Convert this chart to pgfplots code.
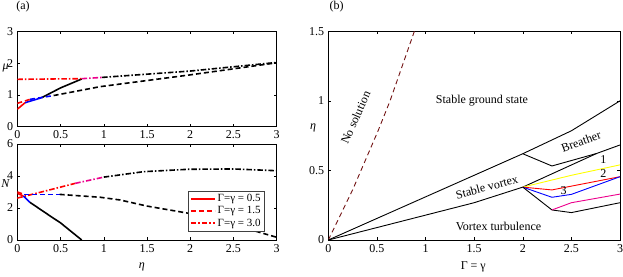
\documentclass[border=0pt]{standalone}
\usepackage{pgfplots}
\pgfplotsset{compat=1.18}
\usepackage{fontspec}
\setmainfont{Liberation Serif}
\definecolor{brownd}{rgb}{0.45,0.08,0.08}
\definecolor{myyellow}{rgb}{1,1,0}
\tikzset{lw/.style={line width=1.6pt}, lt/.style={line width=0.9pt}}
\begin{document}
\fontsize{12}{14}\selectfont
\begin{tikzpicture}
\useasboundingbox (0,0) rectangle (623pt,276pt);
\pgfplotsset{
  every axis/.append style={
    scale only axis, anchor=south west,
    tick align=inside, major tick length=3pt,
    axis line style={line width=0.5pt},
    every tick/.style={black, line width=0.5pt},
    tick label style={font=\fontsize{12}{14}\selectfont},
    /pgf/number format/assume math mode=true,
    xtick pos=both, ytick pos=both,
  },
  dashsty/.style={dash pattern=on 5pt off 3pt},
  dashdotsty/.style={dash pattern=on 5.5pt off 2pt on 1.5pt off 2pt},
}
% ---------- top-left: mu ----------
\begin{axis}[
  at={(17.3pt,149.3pt)}, width=259.4pt, height=95.4pt,
  xmin=0, xmax=3, ymin=0, ymax=3,
  xtick={0,0.5,1,1.5,2,2.5,3}, ytick={0,1,2,3},
  every axis y label/.style={at={(axis description cs:-0.045,0.62)},anchor=center},
  ylabel={\textit{μ}},
]
\addplot[red,lw] coordinates {(0,0.55)(0.09,0.755)};
\addplot[blue,lw] coordinates {(0.09,0.755)(0.28,0.91)};
\addplot[black,lw] coordinates {(0.28,0.91)(0.5,1.22)(0.745,1.5)};
\addplot[red,lw,dashsty] coordinates {(0,0.735)(0.147,0.86)};
\addplot[blue,lw,dashsty] coordinates {(0.147,0.86)(0.42,0.98)};
\addplot[black,lw,dashsty] coordinates {(0.42,0.98)(0.96,1.26)(2,1.63)(3,2.01)};
\addplot[red,lw,dashdotsty] coordinates {(0,1.49)(0.745,1.51)};
\addplot[magenta,lw,dashdotsty] coordinates {(0.745,1.51)(0.98,1.55)};
\addplot[black,lw,dashdotsty] coordinates {(0.98,1.55)(2,1.75)(3,2.02)};
\end{axis}
% ---------- bottom-left: N ----------
\begin{axis}[
  at={(17.3pt,36pt)}, width=259.4pt, height=96pt,
  axis background/.style={fill=white},
  xmin=0, xmax=3, ymin=0, ymax=6,
  xtick={0,0.5,1,1.5,2,2.5,3}, ytick={0,2,4,6},
  every axis y label/.style={at={(axis description cs:-0.045,0.59)},anchor=center},
  every axis x label/.style={at={(axis description cs:0.48,-0.28)},anchor=center},
  ylabel={\textit{N}}, xlabel={\textit{η}},
  legend style={at={(0.659,0.086)}, anchor=south west, draw=black!75, line width=0.8pt,
    font=\fontsize{11}{12}\selectfont, inner sep=1.5pt, row sep=-1pt, fill=white},
  legend cell align=left,
  legend image code/.code={\draw[#1] (0pt,0pt) -- (24pt,0pt);},
]
\addplot[red,lw] coordinates {(0,2.92)(0.07,2.75)};
\addlegendentry{Γ=γ = 0.5}
\addplot[red,lw,dashsty] coordinates {(0,3.0)(0.08,2.85)};
\addlegendentry{Γ=γ = 1.5}
\addplot[red,lw,dashdotsty] coordinates {(0,2.62)(0.3,3.03)(0.67,3.54)};
\addlegendentry{Γ=γ = 3.0}
\addplot[blue,lw,forget plot] coordinates {(0.07,2.75)(0.147,2.35)};
\addplot[black,lw,forget plot] coordinates {(0.147,2.35)(0.38,1.5)(0.5,1.07)(0.745,0)};
\addplot[blue,lw,dashsty,forget plot] coordinates {(0.08,2.85)(0.49,2.85)};
\addplot[black,lw,dashsty,forget plot] coordinates {(0.49,2.85)(0.96,2.67)(1.19,2.5)(1.5,2.12)(1.98,1.67)(2.5,0.95)(3,0.17)};
\addplot[magenta,lw,dashdotsty,forget plot] coordinates {(0.67,3.54)(1.0,3.93)};
\addplot[black,lw,dashdotsty,forget plot] coordinates {(1.0,3.93)(1.46,4.27)(1.98,4.42)(2.5,4.44)(3,4.33)};
\end{axis}
% ---------- right: phase diagram ----------
\begin{axis}[
  at={(328.3pt,36pt)}, width=291.7pt, height=208.7pt,
  xmin=0, xmax=3, ymin=0, ymax=1.5,
  xtick={0,0.5,1,1.5,2,2.5,3}, ytick={0,0.5,1,1.5},
  every axis y label/.style={at={(axis description cs:-0.052,0.537)},anchor=center},
  every axis x label/.style={at={(axis description cs:0.497,-0.128)},anchor=center},
  ylabel={\textit{η}}, xlabel={Γ = γ},
]
\addplot[brownd,lt,dash pattern=on 5pt off 3.5pt] coordinates {(0,0)(0.25,0.36)(0.515,0.79)(0.635,1.0)(0.885,1.5)};
\addplot[black,lt] coordinates {(0,0)(2,0.62)(2.5,0.785)(3,1.0)};
\addplot[black,lt] coordinates {(2,0.62)(2.3,0.532)(2.76,0.622)(3,0.683)};
\addplot[black,lt] coordinates {(2,0.38)(2.76,0.622)};
\addplot[black,lt] coordinates {(0,0)(1.5,0.268)(2,0.38)};
\addplot[myyellow,lt] coordinates {(2,0.38)(2.5,0.465)(3,0.54)};
\addplot[red,lt] coordinates {(2,0.38)(2.3,0.36)(3,0.455)};
\addplot[blue,lt] coordinates {(2,0.38)(2.3,0.307)(2.5,0.328)(3,0.455)};
\addplot[black,lt] coordinates {(2,0.38)(2.3,0.216)(2.5,0.197)(3,0.268)};
\addplot[magenta,lt] coordinates {(2.3,0.216)(2.5,0.268)(3,0.33)};
\node[rotate=66] at (axis cs:0.28,0.88) {No solution};
\node at (axis cs:1.58,1.0) {Stable ground state};
\node[rotate=20] at (axis cs:2.6,0.71) {Breather};
\node[rotate=15] at (axis cs:1.63,0.38) {Stable vortex};
\node at (axis cs:1.75,0.095) {Vortex turbulence};
\node at (axis cs:2.83,0.575) {1};
\node at (axis cs:2.83,0.48) {2};
\node at (axis cs:2.42,0.355) {3};
\end{axis}
\node at (23pt,269pt) {(a)};
\node at (336.7pt,269pt) {(b)};
\end{tikzpicture}
\end{document}
